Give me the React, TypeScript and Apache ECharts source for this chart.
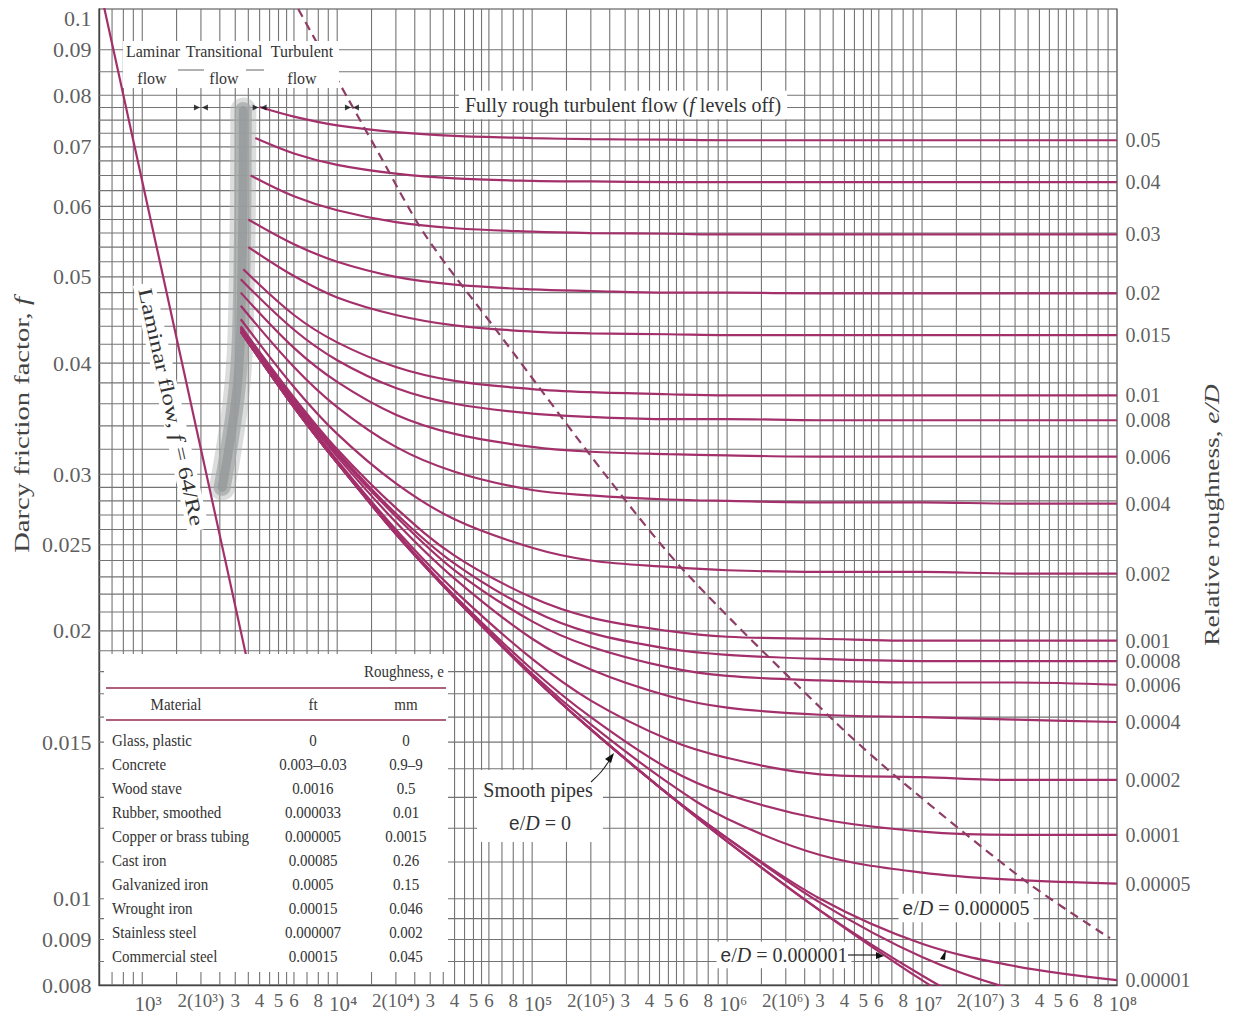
import React, { useEffect, useRef } from "react";
import * as echarts from "echarts";

const X_MIN = 600;
const X_MAX = 1e8;
const Y_MIN = 0.008;
const Y_MAX = 0.1;

const SERIF = '"Liberation Serif", "DejaVu Serif", serif';
const SANS = '"Liberation Sans", "DejaVu Sans", sans-serif';
const CURVE_COLOR = "#a3306b";
const GRID_COLOR = "#747474";
const TEXT_COLOR = "#333333";

// grid lines
const X_GRID_MULTIPLIERS = [1, 1.5, 2, 2.5, 3, 3.5, 4, 4.5, 5, 5.5, 6, 7, 8, 9];
const X_GRID_DECADES = [100, 1e3, 1e4, 1e5, 1e6, 1e7];
const Y_GRID = [
  0.0085, 0.009, 0.0095, 0.01, 0.011, 0.012, 0.013, 0.014, 0.015, 0.016, 0.017, 0.018, 0.019,
  0.02, 0.021, 0.022, 0.023, 0.024, 0.025, 0.026, 0.027, 0.028, 0.029, 0.03, 0.032, 0.034,
  0.036, 0.038, 0.04, 0.042, 0.044, 0.046, 0.048, 0.05, 0.052, 0.054, 0.056, 0.058, 0.06,
  0.0625, 0.065, 0.0675, 0.07, 0.0725, 0.075, 0.0775, 0.08, 0.085, 0.09,
];

// tick labels
const Y_TICKS = [0.1, 0.09, 0.08, 0.07, 0.06, 0.05, 0.04, 0.03, 0.025, 0.02, 0.015, 0.01, 0.009, 0.008];
const X_TICKS = [
  1e3, 2e3, 3e3, 4e3, 5e3, 6e3, 8e3,
  1e4, 2e4, 3e4, 4e4, 5e4, 6e4, 8e4,
  1e5, 2e5, 3e5, 4e5, 5e5, 6e5, 8e5,
  1e6, 2e6, 3e6, 4e6, 5e6, 6e6, 8e6,
  1e7, 2e7, 3e7, 4e7, 5e7, 6e7, 8e7,
  1e8,
];
const X_TICK_LABELS = [
  "10³", "2(10³)", "3", "4", "5", "6", "8",
  "10⁴", "2(10⁴)", "3", "4", "5", "6", "8",
  "10⁵", "2(10⁵)", "3", "4", "5", "6", "8",
  "10⁶", "2(10⁶)", "3", "4", "5", "6", "8",
  "10⁷", "2(10⁷)", "3", "4", "5", "6", "8",
  "10⁸",
];

// Reynolds numbers at which the curves were read
const RE_POINTS = [6000, 1e4, 2e4, 4e4, 1e5, 2e5, 5e5, 1e6, 3e6, 1e7, 3e7, 1e8];

// friction factor values read for each relative roughness
const F_0_05 = [0.0757, 0.074, 0.0727, 0.072, 0.0716, 0.0714, 0.0713, 0.0712, 0.0712, 0.0712, 0.0712, 0.0712];
const F_0_04 = [0.0688, 0.0668, 0.0653, 0.0645, 0.0641, 0.064, 0.0639, 0.0639, 0.0639, 0.0639, 0.0639, 0.0639];
const F_0_03 = [0.0616, 0.0594, 0.0576, 0.0567, 0.0562, 0.056, 0.0559, 0.0558, 0.0558, 0.0558, 0.0558, 0.0558];
const F_0_02 = [0.0544, 0.052, 0.05, 0.049, 0.0484, 0.0482, 0.048, 0.048, 0.0479, 0.0479, 0.0479, 0.0479];
const F_0_015 = [0.0501, 0.0474, 0.0453, 0.0441, 0.0434, 0.0432, 0.0431, 0.043, 0.043, 0.043, 0.043, 0.043];
const F_0_01 = [0.0453, 0.0422, 0.0396, 0.0382, 0.0374, 0.0371, 0.0369, 0.0368, 0.0368, 0.0368, 0.0368, 0.0368];
const F_0_008 = [0.0436, 0.0403, 0.0375, 0.036, 0.0351, 0.0348, 0.0346, 0.0346, 0.0345, 0.0345, 0.0345, 0.0345];
const F_0_006 = [0.0416, 0.0381, 0.035, 0.0333, 0.0322, 0.0318, 0.0316, 0.0315, 0.0314, 0.0314, 0.0314, 0.0314];
const F_0_004 = [0.0396, 0.0357, 0.0322, 0.0302, 0.0288, 0.0284, 0.0281, 0.028, 0.0279, 0.0279, 0.0278, 0.0278];
const F_0_002 = [0.0376, 0.0333, 0.0293, 0.0267, 0.0248, 0.024, 0.0236, 0.0234, 0.0233, 0.0233, 0.0232, 0.0232];
const F_0_001 = [0.0366, 0.032, 0.0275, 0.0243, 0.0218, 0.0207, 0.02, 0.0197, 0.0196, 0.0195, 0.0195, 0.0195];
const F_0_0008 = [0.0364, 0.0318, 0.0271, 0.0238, 0.0211, 0.0199, 0.0191, 0.0188, 0.0186, 0.0185, 0.0185, 0.0185];
const F_0_0006 = [0.0363, 0.0316, 0.0269, 0.0234, 0.0205, 0.0192, 0.0182, 0.0178, 0.0176, 0.0175, 0.0175, 0.0174];
const F_0_0004 = [0.0361, 0.0314, 0.0265, 0.0229, 0.0196, 0.0181, 0.0169, 0.0164, 0.0161, 0.016, 0.0159, 0.0158];
const F_0_0002 = [0.0359, 0.0311, 0.026, 0.0222, 0.0186, 0.0167, 0.0151, 0.0144, 0.0138, 0.0137, 0.0136, 0.0136];
const F_0_0001 = [0.0358, 0.031, 0.0258, 0.0219, 0.0181, 0.016, 0.014, 0.0131, 0.0123, 0.0119, 0.0118, 0.0118];
const F_0_00005 = [0.0357, 0.0309, 0.0258, 0.0218, 0.0179, 0.0157, 0.0135, 0.0123, 0.0112, 0.0107, 0.0105, 0.0104];
const F_0_00001 = [0.0357, 0.0309, 0.0257, 0.0218, 0.0178, 0.0155, 0.0131, 0.0117, 0.01, 0.0089, 0.0084, 0.0081];
const F_0_000005 = [0.0357, 0.0309, 0.0257, 0.0218, 0.0178, 0.0155, 0.0131, 0.0117, 0.0099, 0.0086, 0.0079, 0.0075];
const F_0_000001 = [0.0357, 0.0309, 0.0257, 0.0218, 0.0178, 0.0155, 0.0131, 0.0116, 0.0097, 0.0082, 0.0072, 0.0065];
const F_SMOOTH = [0.0357, 0.0309, 0.0258, 0.0218, 0.0178, 0.0155, 0.0131, 0.0116, 0.0097, 0.0081, 0.007, 0.006];

const CURVE_VALUES = [
  F_0_05, F_0_04, F_0_03, F_0_02, F_0_015, F_0_01, F_0_008, F_0_006, F_0_004, F_0_002,
  F_0_001, F_0_0008, F_0_0006, F_0_0004, F_0_0002, F_0_0001, F_0_00005, F_0_00001,
  F_0_000005, F_0_000001, F_SMOOTH,
];
const CURVE_NAMES = [
  "0.05", "0.04", "0.03", "0.02", "0.015", "0.01", "0.008", "0.006", "0.004", "0.002",
  "0.001", "0.0008", "0.0006", "0.0004", "0.0002", "0.0001", "0.00005", "0.00001",
  "0.000005", "0.000001", "0",
];
const CURVE_LABELED = [
  true, true, true, true, true, true, true, true, true, true,
  true, true, true, true, true, true, true, true, false, false, false,
];
const CURVE_START_RE = [4000, 3800, 3600, 3500, 3500, 3300, 3200, 3200, 3200, 3200, 3200, 3200, 3200, 3200, 3200, 3200, 3200, 3200, 3200, 3200, 3200];
const CURVE_START_F = [0.0776, 0.0716, 0.065, 0.058, 0.054, 0.051, 0.0497, 0.048, 0.0464, 0.0448, 0.044, 0.0439, 0.0438, 0.0437, 0.0435, 0.0435, 0.0434, 0.0434, 0.0434, 0.0434, 0.0434];

// laminar line f = 64/Re
const LAMINAR_RE = [600, 4000];
const LAMINAR_F = [0.1067, 0.016];

// dashed boundary of fully rough flow
const DASHED_RE = [6310, 11250, 16000, 28300, 68500, 242000, 609000, 3500000, 7710000, 34500000, 92000000];
const DASHED_F = [0.1, 0.0796, 0.0694, 0.0557, 0.043, 0.0298, 0.0233, 0.01588, 0.0136, 0.01044, 0.00903];

// gray transitional band
const BAND_RE = [3300, 3230, 3070, 2570];
const BAND_F = [0.0769, 0.0477, 0.0376, 0.029];

// flow regime boundary arrows
const ARROW_RE = [2000, 4000, 11900];
const ARROW_F = 0.0775;

// table
const MATERIALS = [
  "Glass, plastic", "Concrete", "Wood stave", "Rubber, smoothed", "Copper or brass tubing",
  "Cast iron", "Galvanized iron", "Wrought iron", "Stainless steel", "Commercial steel",
];
const ROUGH_FT = ["0", "0.003–0.03", "0.0016", "0.000033", "0.000005", "0.00085", "0.0005", "0.00015", "0.000007", "0.00015"];
const ROUGH_MM = ["0", "0.9–9", "0.5", "0.01", "0.0015", "0.26", "0.15", "0.046", "0.002", "0.045"];

function gridSeries(data: number[][], vertical: boolean) {
  return {
    type: "custom",
    coordinateSystem: "cartesian2d",
    silent: true,
    z: 1,
    clip: false,
    data,
    renderItem: (_params: any, api: any) => {
      const v = api.value(vertical ? 0 : 1);
      const a = vertical ? api.coord([v, Y_MIN]) : api.coord([X_MIN, v]);
      const b = vertical ? api.coord([v, Y_MAX]) : api.coord([X_MAX, v]);
      return {
        type: "line",
        shape: { x1: a[0], y1: a[1], x2: b[0], y2: b[1] },
        style: { stroke: GRID_COLOR, lineWidth: 1.1 },
      };
    },
  };
}

function labelSeries(data: any[], label: any) {
  return {
    type: "scatter",
    silent: true,
    clip: false,
    z: 6,
    symbolSize: 1,
    itemStyle: { color: "rgba(0,0,0,0)" },
    data,
    label: {
      show: true,
      formatter: "{b}",
      color: TEXT_COLOR,
      fontFamily: SERIF,
      ...label,
    },
  };
}

function txt(x: number, y: number, text: string, style: any = {}, el: any = {}) {
  return {
    type: "text",
    x,
    y,
    z: 30,
    silent: true,
    style: {
      text,
      fill: TEXT_COLOR,
      fontFamily: SERIF,
      fontSize: 15,
      align: "center",
      textAlign: "center",
      verticalAlign: "middle",
      textVerticalAlign: "middle",
      ...style,
    },
    ...el,
  };
}

function rect(x: number, y: number, w: number, h: number, z = 20) {
  return { type: "rect", z, silent: true, shape: { x, y, width: w, height: h }, style: { fill: "#ffffff" } };
}

function seg(x1: number, y1: number, x2: number, y2: number, stroke = "#222", lineWidth = 1.2) {
  return { type: "line", z: 31, silent: true, shape: { x1, y1, x2, y2 }, style: { stroke, lineWidth } };
}

function arrowHead(points: number[][]) {
  return { type: "polygon", z: 31, silent: true, shape: { points }, style: { fill: "#111" } };
}

function buildOption() {
  const xGrid: number[][] = [];
  X_GRID_DECADES.forEach((d) =>
    X_GRID_MULTIPLIERS.forEach((m) => {
      const v = m * d;
      if (v > X_MIN && v < X_MAX) xGrid.push([v, Y_MIN]);
    })
  );
  const yGrid = Y_GRID.map((v) => [X_MIN, v]);

  const curveSeries = CURVE_VALUES.map((vals, i) => ({
    type: "line",
    name: CURVE_NAMES[i],
    z: 3,
    silent: true,
    smooth: 0.35,
    symbol: "none",
    clip: true,
    lineStyle: { color: CURVE_COLOR, width: 2.2 },
    data: [[CURVE_START_RE[i], CURVE_START_F[i]], ...RE_POINTS.map((re, j) => [re, vals[j]])],
  }));

  const rightLabels = CURVE_VALUES.map((vals, i) => ({
    name: CURVE_NAMES[i],
    value: [X_MAX, vals[vals.length - 1]],
    labeled: CURVE_LABELED[i],
  }))
    .filter((d) => d.labeled)
    .map((d) => ({ name: d.name, value: d.value }));

  const decadeTicks = X_TICKS.map((v, i) => ({ name: X_TICK_LABELS[i], value: [v, Y_MIN] })).filter((d) =>
    d.name.startsWith("10")
  );
  const otherTicks = X_TICKS.map((v, i) => ({ name: X_TICK_LABELS[i], value: [v, Y_MIN] })).filter(
    (d) => !d.name.startsWith("10")
  );

  const yTickData = Y_TICKS.map((v, i) => ({
    name: String(v),
    value: [X_MIN, v],
    label: i === 0 ? { offset: [0, 9] } : undefined,
  }));

  const graphics: any[] = [];

  // flow regime header
  graphics.push(rect(123, 41, 216, 47));
  graphics.push(txt(153, 51, "Laminar", { fontSize: 16 }, { scaleY: 1.1 }));
  graphics.push(txt(224, 51, "Transitional", { fontSize: 16 }, { scaleY: 1.1 }));
  graphics.push(txt(302, 51, "Turbulent", { fontSize: 16 }, { scaleY: 1.1 }));
  graphics.push(txt(152, 78, "flow", { fontSize: 16 }, { scaleY: 1.1 }));
  graphics.push(txt(224, 78, "flow", { fontSize: 16 }, { scaleY: 1.1 }));
  graphics.push(txt(302, 78, "flow", { fontSize: 16 }, { scaleY: 1.1 }));
  graphics.push(seg(178, 70, 204, 70, GRID_COLOR, 1.1));
  graphics.push(seg(246, 70, 264, 70, GRID_COLOR, 1.1));

  // fully rough note
  graphics.push(
    txt(
      623,
      105,
      "Fully rough turbulent flow ({i|f} levels off)",
      {
        fontSize: 20,
        backgroundColor: "#ffffff",
        padding: [3, 6, 3, 6],
        rich: { i: { fontStyle: "italic", fontSize: 20, fontFamily: SERIF, fill: TEXT_COLOR } },
      },
      { scaleY: 1.1 }
    )
  );

  // laminar flow label
  graphics.push(
    txt(
      171,
      407,
      "Laminar flow, {i|f} = 64/Re",
      {
        fontSize: 20,
        backgroundColor: "#ffffff",
        padding: [1, 4, 1, 4],
        rich: { i: { fontStyle: "italic", fontSize: 20, fontFamily: SERIF, fill: TEXT_COLOR } },
      },
      { rotation: (-77.5 * Math.PI) / 180, scaleX: 1.26 }
    )
  );

  // smooth pipes label
  graphics.push(rect(477, 770, 126, 72));
  graphics.push(txt(538, 790, "Smooth pipes", { fontSize: 20 }, { scaleY: 1.1 }));
  graphics.push(
    txt(540, 823, "{s|e}/{i|D} = 0", {
      fontSize: 20,
      rich: {
        s: { fontFamily: SANS, fontSize: 19, fill: TEXT_COLOR },
        i: { fontStyle: "italic", fontSize: 20, fontFamily: SERIF, fill: TEXT_COLOR },
      },
    }, { scaleY: 1.1 })
  );
  graphics.push({
    type: "polyline",
    z: 31,
    silent: true,
    shape: { points: [[591, 782], [601, 772], [609, 761]], smooth: 0.4 },
    style: { stroke: "#222", lineWidth: 1.1, fill: null },
  });
  graphics.push(arrowHead([[614, 753], [605, 759], [611, 763]]));

  // e/D = 0.000005 label
  graphics.push(
    txt(966, 908, "{s|e}/{i|D} = 0.000005", {
      fontSize: 20,
      backgroundColor: "#ffffff",
      padding: [3, 4, 3, 4],
      rich: {
        s: { fontFamily: SANS, fontSize: 19, fill: TEXT_COLOR },
        i: { fontStyle: "italic", fontSize: 20, fontFamily: SERIF, fill: TEXT_COLOR },
      },
    }, { scaleY: 1.1 })
  );
  graphics.push(arrowHead([[946, 950], [940, 959], [945, 960]]));

  // e/D = 0.000001 label
  graphics.push(
    txt(784, 955, "{s|e}/{i|D} = 0.000001", {
      fontSize: 20,
      backgroundColor: "#ffffff",
      padding: [2, 4, 2, 4],
      rich: {
        s: { fontFamily: SANS, fontSize: 19, fill: TEXT_COLOR },
        i: { fontStyle: "italic", fontSize: 20, fontFamily: SERIF, fill: TEXT_COLOR },
      },
    }, { scaleY: 1.1 })
  );
  graphics.push(seg(848, 955, 878, 955, "#222", 1.2));
  graphics.push(arrowHead([[884, 956], [876, 952], [876, 959]]));

  // axis titles
  graphics.push(
    txt(22, 425, "Darcy friction factor, {i|f}", {
      fontSize: 21,
      fill: "#444",
      rich: { i: { fontStyle: "italic", fontSize: 21, fontFamily: SERIF, fill: "#444" } },
    }, { rotation: Math.PI / 2, scaleX: 1.36 })
  );
  graphics.push(
    txt(1212, 515, "Relative roughness, {i|e/D}", {
      fontSize: 21,
      fill: "#444",
      rich: { i: { fontStyle: "italic", fontSize: 21, fontFamily: SERIF, fill: "#444" } },
    }, { rotation: Math.PI / 2, scaleX: 1.3 })
  );

  // table
  graphics.push(rect(104, 654, 344, 318, 40));
  const tz = { z: 41, scaleY: 1.08 };
  graphics.push(txt(444, 671, "Roughness, e", { fontSize: 15, align: "right", textAlign: "right" }, tz));
  graphics.push({ ...seg(106, 688, 446, 688, "#b0607f", 1.8), z: 41 });
  graphics.push(txt(176, 704, "Material", { fontSize: 15 }, tz));
  graphics.push(txt(313, 704, "ft", { fontSize: 15 }, tz));
  graphics.push(txt(406, 704, "mm", { fontSize: 15 }, tz));
  graphics.push({ ...seg(106, 720, 446, 720, "#b0607f", 1.8), z: 41 });
  MATERIALS.forEach((m, i) => {
    const y = 740 + i * 24;
    graphics.push(txt(112, y, m, { fontSize: 15, align: "left", textAlign: "left" }, tz));
    graphics.push(txt(313, y, ROUGH_FT[i], { fontSize: 15 }, tz));
    graphics.push(txt(406, y, ROUGH_MM[i], { fontSize: 15 }, tz));
  });

  const bandData = BAND_RE.map((re, i) => [re, BAND_F[i]]);

  return {
    animation: false,
    backgroundColor: "#ffffff",
    grid: {
      left: 99,
      right: 116,
      top: 9,
      bottom: 40,
      show: true,
      borderColor: "#444",
      borderWidth: 1.2,
      backgroundColor: "transparent",
    },
    xAxis: {
      type: "log",
      logBase: 10,
      min: X_MIN,
      max: X_MAX,
      axisLine: { show: true, lineStyle: { color: "#444", width: 1.4 } },
      axisTick: { show: false },
      axisLabel: { show: false },
      splitLine: { show: false },
    },
    yAxis: {
      type: "log",
      logBase: 10,
      min: Y_MIN,
      max: Y_MAX,
      axisLine: { show: true, lineStyle: { color: "#444", width: 1.4 } },
      axisTick: { show: false },
      axisLabel: { show: false },
      splitLine: { show: false },
    },
    series: [
      gridSeries(xGrid, true),
      gridSeries(yGrid, false),
      {
        type: "line",
        z: 2,
        silent: true,
        symbol: "none",
        smooth: 0.4,
        data: bandData,
        lineStyle: {
          color: "rgba(175,178,178,0.45)",
          width: 26,
          cap: "round",
          join: "round",
        },
      },
      {
        type: "line",
        z: 2,
        silent: true,
        symbol: "none",
        smooth: 0.4,
        data: bandData,
        lineStyle: {
          color: "rgba(165,168,168,0.75)",
          width: 17,
          cap: "round",
          join: "round",
        },
      },
      {
        type: "line",
        z: 2,
        silent: true,
        symbol: "none",
        smooth: 0.4,
        data: bandData,
        lineStyle: {
          color: "rgba(150,154,154,0.8)",
          width: 9,
          cap: "round",
          join: "round",
        },
      },
      ...curveSeries,
      {
        type: "line",
        z: 3,
        silent: true,
        symbol: "none",
        clip: true,
        data: LAMINAR_RE.map((re, i) => [re, LAMINAR_F[i]]),
        lineStyle: { color: CURVE_COLOR, width: 2.2 },
      },
      {
        type: "line",
        z: 3,
        silent: true,
        symbol: "none",
        smooth: 0.3,
        clip: true,
        data: DASHED_RE.map((re, i) => [re, DASHED_F[i]]),
        lineStyle: { color: "#8d3d66", width: 2.2, type: [9, 6] },
      },
      {
        type: "scatter",
        z: 5,
        silent: true,
        symbol: "triangle",
        symbolSize: [6, 6],
        symbolRotate: -90,
        symbolOffset: [-4, 0],
        itemStyle: { color: "#111" },
        data: ARROW_RE.map((re) => [re, ARROW_F]),
      },
      {
        type: "scatter",
        z: 5,
        silent: true,
        symbol: "triangle",
        symbolSize: [6, 6],
        symbolRotate: 90,
        symbolOffset: [4, 0],
        itemStyle: { color: "#111" },
        data: ARROW_RE.map((re) => [re, ARROW_F]),
      },
      labelSeries(yTickData, { position: "left", distance: 7, fontSize: 22 }),
      labelSeries(rightLabels, { position: "right", distance: 8, fontSize: 20 }),
      labelSeries(decadeTicks, { position: "bottom", distance: 8, fontSize: 21, offset: [6, 0] }),
      labelSeries(otherTicks, { position: "bottom", distance: 5, fontSize: 19 }),
    ],
    graphic: { elements: graphics },
  };
}

export default function App() {
  const ref = useRef<HTMLDivElement>(null);
  useEffect(() => {
    if (!ref.current) return;
    const chart = echarts.init(ref.current, null, { renderer: "svg" });
    chart.setOption(buildOption() as any);
    return () => {
      chart.dispose();
    };
  }, []);
  return (
    <div
      ref={ref}
      style={{ position: "absolute", left: 0, top: 0, width: 1233, height: 1025, background: "#ffffff" }}
    />
  );
}
